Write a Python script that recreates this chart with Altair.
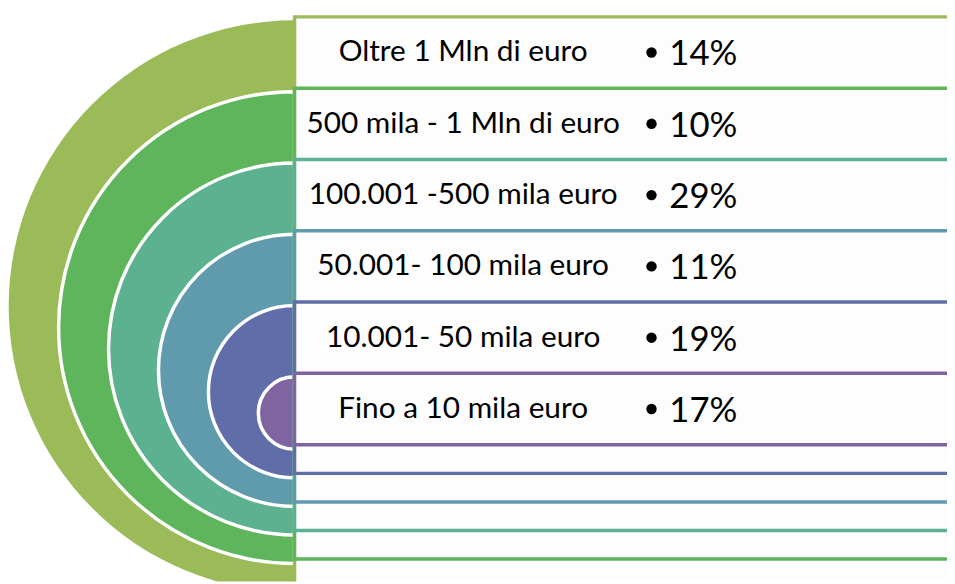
import pandas as pd
import altair as alt

# ---- data ----
labels = [
    "Oltre 1 Mln di euro",
    "500 mila - 1 Mln di euro",
    "100.001 -500 mila euro",
    "50.001- 100 mila euro",
    "10.001- 50 mila euro",
    "Fino a 10 mila euro",
]
percents = [14, 10, 29, 11, 19, 17]
colors = ["#9BBB59", "#5EB55C", "#5BB190", "#5F9BAD", "#5F6DA8", "#8064A2"]

# ---- layout (pixel space of the page) ----
X_MIN, X_MAX = 8, 955
Y_MIN, Y_MAX = 8, 584
CENTER_X = 297          # flat side of the nested half-discs / left edge of boxes
RIGHT_X = 1000          # boxes run off the right edge
TOP0, TOP_STEP = 18.0, 71.9
BOT0, BOT_STEP = 594.6, 28.8
LABEL_X = 467
BULLET_X = 657
PCT_X = 675

rows = []
for i, (lab, p, c) in enumerate(zip(labels, percents, colors)):
    top = TOP0 + TOP_STEP * i
    bot = BOT0 - BOT_STEP * i
    rtop = top - 3.5
    rbot = bot - 4.5 if i > 0 else 640
    rows.append(dict(
        level=i, label=lab, pct=f"{p}%", color=c,
        cx=CENTER_X, cy=(top + bot) / 2, r=(bot - top) / 2,
        sw=0 if i == 0 else 3.5,
        x0=CENTER_X, x1=RIGHT_X, rtop=rtop, rbot=rbot,
        ty=rtop + TOP_STEP / 2, px=PCT_X, bx=BULLET_X, lx=LABEL_X,
    ))
df = pd.DataFrame(rows)

xs = alt.Scale(domain=[X_MIN, X_MAX], nice=False, zero=False)
ys = alt.Scale(domain=[Y_MIN, Y_MAX], nice=False, zero=False, reverse=True)

base = alt.Chart(df)

arcs = base.mark_arc(theta=3.141592653589793, theta2=6.283185307179586, stroke="white", clip=True).encode(
    x=alt.X("cx:Q", scale=xs, axis=None),
    y=alt.Y("cy:Q", scale=ys, axis=None),
    radius=alt.Radius("r:Q", scale=None, stack=None),
    fill=alt.Fill("color:N", scale=None),
    strokeWidth=alt.StrokeWidth("sw:Q", scale=None),
)

boxes = base.mark_rect(fill="#FDFDFD", strokeWidth=3.5, clip=True).encode(
    x=alt.X("x0:Q", scale=xs, axis=None),
    x2="x1:Q",
    y=alt.Y("rtop:Q", scale=ys, axis=None),
    y2="rbot:Q",
    stroke=alt.Stroke("color:N", scale=None),
)

label_text = base.mark_text(font="Lato", fontSize=30, color="#000000", align="center", baseline="middle").encode(
    x=alt.X("lx:Q", scale=xs, axis=None),
    y=alt.Y("ty:Q", scale=ys, axis=None),
    text="label:N",
)

bullets = base.mark_circle(size=110, color="#000000", opacity=1).encode(
    x=alt.X("bx:Q", scale=xs, axis=None),
    y=alt.Y("ty:Q", scale=ys, axis=None),
)

pct_text = base.mark_text(font="Lato", fontSize=35, color="#000000", align="left", baseline="middle", dy=2).encode(
    x=alt.X("px:Q", scale=xs, axis=None),
    y=alt.Y("ty:Q", scale=ys, axis=None),
    text="pct:N",
)

chart = alt.layer(arcs, boxes, label_text, bullets, pct_text).properties(
    width=X_MAX - X_MIN,
    height=Y_MAX - Y_MIN,
    padding=0,
    autosize=alt.AutoSizeParams(type="none"),
    background="white",
).configure_view(stroke=None)

chart.save("out.html", embed_options={"renderer": "svg", "actions": False})
